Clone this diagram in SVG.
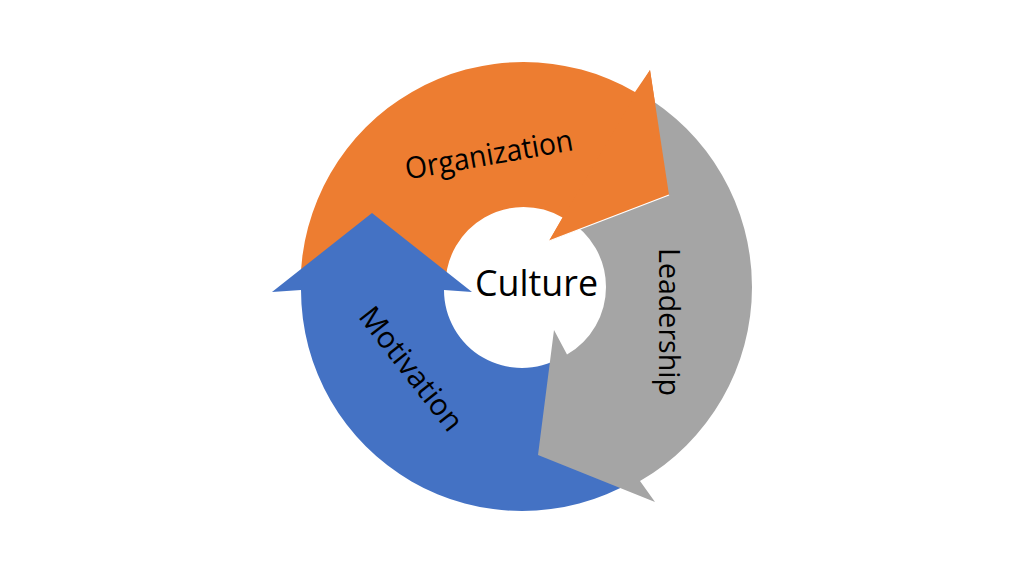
<svg xmlns="http://www.w3.org/2000/svg" width="1024" height="576" viewBox="0 0 1024 576">
  <style>
    .lbl { font-family: "Open Sans", "Noto Sans", "Liberation Sans", sans-serif; fill: #000000; text-anchor: middle; }
    .seg { font-size: 30px; }
    .ctr { font-size: 37px; }
  </style>
  <rect width="1024" height="576" fill="#ffffff"/>
  <g id="connectors">
    <g id="organization-arrow">
      <path fill="#ED7D31" d="M445.5,285 L300.5,285 A223,223 0 0 1 635,91.88 L650,70 L669,195 L549,241 L562.5,217.45 A78,78 0 0 0 445.5,285 Z"/>
    </g>
    <g id="motivation-arrow">
      <path fill="#4472C4" d="M561,357.55 L632.5,481.39 A221,221 0 0 1 301,290 L272,292 L372,213 L472,292 L444,290 A78,78 0 0 0 561,357.55 Z"/>
    </g>
    <g id="leadership-arrow">
      <path fill="#A5A5A5" d="M567,219.45 L640,93.01 A224,224 0 0 1 640,480.99 L655,502 L538,455 L554,330 L567,354.55 A78,78 0 0 0 567,219.45 Z"/>
    </g>
    <g id="organization-head">
      <polygon fill="#ED7D31" points="650,70 669,195 549,241"/>
      <line x1="669" y1="195" x2="549" y2="241" stroke="#ffffff" stroke-width="1.3"/>
    </g>
  </g>
  <g id="node-organization">
    <text class="lbl seg" transform="translate(489,155) rotate(-10)" y="10" textLength="170" lengthAdjust="spacingAndGlyphs">Organization</text>
  </g>
  <g id="node-leadership">
    <text class="lbl seg" transform="translate(669,322) rotate(90)" y="10" textLength="148" lengthAdjust="spacingAndGlyphs">Leadership</text>
  </g>
  <g id="node-motivation">
    <text class="lbl seg" transform="translate(411,369) rotate(52)" y="10" textLength="148" lengthAdjust="spacingAndGlyphs">Motivation</text>
  </g>
  <g id="node-culture">
    <text class="lbl ctr" x="536.5" y="296" textLength="123" lengthAdjust="spacingAndGlyphs">Culture</text>
  </g>
</svg>
